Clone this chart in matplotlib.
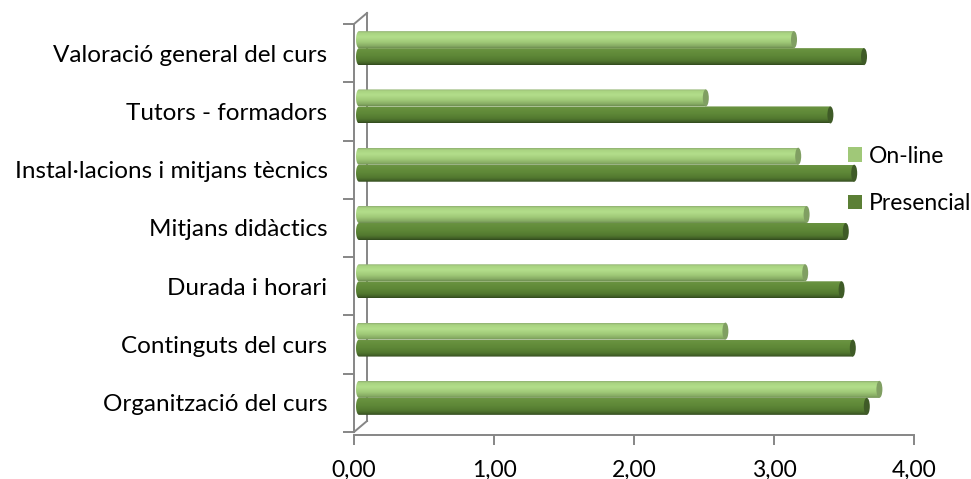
import numpy as np
import matplotlib
matplotlib.use("Agg")
import matplotlib.pyplot as plt
from matplotlib.colors import LinearSegmentedColormap
from matplotlib.patches import PathPatch, Ellipse, Patch
from matplotlib.path import Path

plt.rcParams['font.family'] = ['Lato', 'DejaVu Sans']

# data, bottom row first
categories = ["Organització del curs", "Continguts del curs", "Durada i horari",
              "Mitjans didàctics", "Instal·lacions i mitjans tècnics",
              "Tutors - formadors", "Valoració general del curs"]
online = [3.71, 2.61, 3.18, 3.19, 3.13, 2.47, 3.10]
presencial = [3.62, 3.52, 3.44, 3.47, 3.53, 3.36, 3.60]
series_names = ["On-line", "Presencial"]
xticks = [0, 1, 2, 3, 4]
xtick_labels = ["0,00", "1,00", "2,00", "3,00", "4,00"]

W, H = 971, 479
fig = plt.figure(figsize=(W / 100, H / 100), dpi=100)
# plot area in pixels: x 354..914, y 24..432
ax = fig.add_axes([354 / W, 1 - 432 / H, (914 - 354) / W, (432 - 24) / H])
ax.set_xlim(0, 4)
ax.set_ylim(-0.5, len(categories) - 0.5)

px_x = 4 / 560.0          # data units per pixel, x
px_y = 7 / 408.0          # data units per pixel, y

# 3d-ish frame
grey = '#868686'
dxw, dyw = 13 * px_x, 11 * px_y
top = len(categories) - 0.5
kw = dict(color=grey, lw=1.4, clip_on=False, zorder=1)
ax.plot([0, 0], [-0.5, top], **kw)
ax.plot([dxw, dxw], [-0.5 + dyw, top + dyw], **kw)
ax.plot([0, dxw], [top, top + dyw], **kw)
ax.plot([0, dxw], [-0.5, -0.5 + dyw], **kw)
for s in ax.spines.values():
    s.set_visible(False)
ax.spines['bottom'].set_visible(True)
ax.spines['bottom'].set_color(grey)
ax.spines['bottom'].set_linewidth(1.4)
ax.spines['bottom'].set_position(('outward', 2))

light_cmap = LinearSegmentedColormap.from_list('light', [
    (0, '#8fae72'), (0.1, '#a9d381'), (0.35, '#b3de8b'),
    (0.65, '#a0c978'), (0.88, '#87ac64'), (1, '#6f8f52')])
dark_cmap = LinearSegmentedColormap.from_list('dark', [
    (0, '#6c9444'), (0.15, '#66903d'), (0.45, '#5e8737'),
    (0.75, '#52782f'), (0.92, '#405e26'), (1, '#2f481b')])
grad = np.linspace(0, 1, 64).reshape(-1, 1)

h = 17 * px_y
ew = 3 * px_x
x0 = 5 * px_x
bx, by = 6 * px_x, 5 * px_y


def cylinder(val, yc, cmap, cap):
    xe = val + bx
    yb, yt = yc - h / 2, yc + h / 2
    t = np.linspace(np.pi / 2, 3 * np.pi / 2, 20)
    verts = [(x0, yb), (xe, yb), (xe, yt), (x0, yt)]
    verts += list(zip(x0 + ew * np.cos(t), yc + h / 2 * np.sin(t)))
    verts.append((x0, yb))
    codes = [Path.MOVETO] + [Path.LINETO] * (len(verts) - 2) + [Path.CLOSEPOLY]
    clip = PathPatch(Path(verts, codes), fc='none', ec='none', transform=ax.transData)
    ax.add_patch(clip)
    im = ax.imshow(grad, cmap=cmap, extent=[x0 - ew, xe, yb, yt], aspect='auto',
                   interpolation='bilinear', zorder=2)
    im.set_clip_path(clip)
    ax.add_patch(Ellipse((xe, yc), 2 * ew, h, fc=cap, ec='none', zorder=3))


for i in range(len(categories)):
    cylinder(online[i], i + by + h / 2, light_cmap, '#809f62')
    cylinder(presencial[i], i + by - h / 2, dark_cmap, '#3f5b27')

ax.set_xlim(0, 4)
ax.set_ylim(-0.5, len(categories) - 0.5)

ax.set_xticks(xticks)
ax.set_xticklabels(xtick_labels, fontsize=16.5)
ax.tick_params(axis='x', direction='out', length=7, width=1.4, color=grey, pad=11)
ax.set_yticks(np.arange(-0.5, len(categories), 1.0))
ax.set_yticklabels([])
ax.tick_params(axis='y', direction='out', length=8, width=1.4, color=grey)
ax.set_yticks(np.arange(len(categories)), minor=True)
ax.set_yticklabels(categories, minor=True, fontsize=17.5)
ax.tick_params(axis='y', which='minor', length=0, pad=19)

handles = [Patch(fc='#a0c878', ec='none'), Patch(fc='#5b7f35', ec='none')]
fig.legend(handles, series_names, loc='center left', bbox_to_anchor=(848 / W, 1 - 180 / H),
           frameon=False, fontsize=16.5, handlelength=0.6, handleheight=0.6,
           handletextpad=0.3, labelspacing=1.15, borderaxespad=0, borderpad=0)

fig.savefig('out.png', dpi=100)
